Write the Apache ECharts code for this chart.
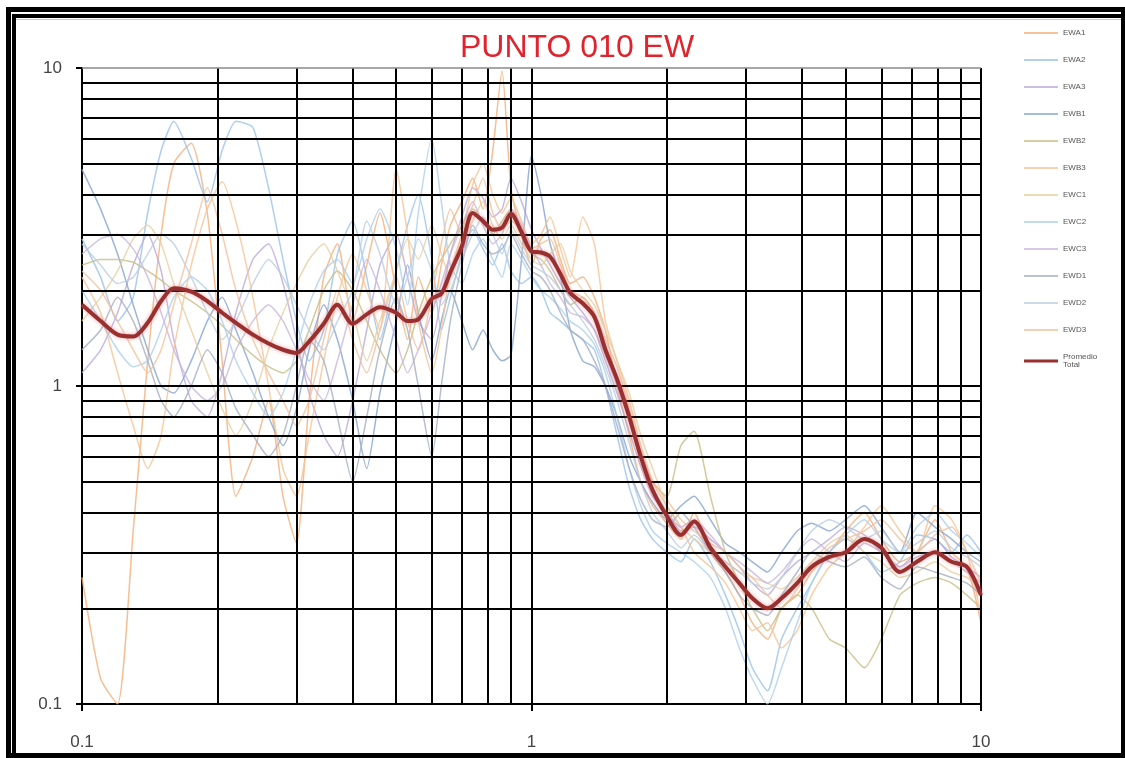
<!DOCTYPE html>
<html>
<head>
<meta charset="utf-8">
<script src="https://cdn.jsdelivr.net/npm/echarts@6/dist/echarts.min.js"></script>
<style>
  html, body { margin: 0; padding: 0; background: #ffffff; }
  #chart { width: 1125px; height: 758px; }
</style>
</head>
<body>
<div id="chart"></div>
<script>
// Frequencies (Hz) shared by every record
const freq = [0.10, 0.11, 0.12, 0.13, 0.14, 0.15, 0.16, 0.175, 0.19, 0.205, 0.22, 0.24, 0.26, 0.28, 0.30,
  0.32, 0.345, 0.37, 0.40, 0.43, 0.46, 0.50, 0.53, 0.56, 0.60, 0.63, 0.66, 0.70,
  0.74, 0.78, 0.82, 0.86, 0.90, 0.95, 1.00, 1.05, 1.10, 1.16, 1.22, 1.30, 1.38, 1.46,
  1.55, 1.65, 1.75, 1.86, 2.0, 2.15, 2.3, 2.5, 2.7, 2.9, 3.1, 3.35, 3.6, 3.9,
  4.2, 4.6, 5.0, 5.5, 6.0, 6.6, 7.2, 7.9, 8.6, 9.3, 10.0];

// H/V spectral ratios, one array per record
const EWA1 = [0.25, 0.12, 0.10, 0.35, 1.2, 3.0, 5.0, 5.8, 3.5, 1.2, 0.45, 0.6, 0.9, 0.45, 0.32,
  0.9, 2.2, 2.8, 1.6, 2.4, 3.5, 2.0, 1.4, 2.2, 1.7, 2.4, 3.2, 3.8,
  4.5, 3.6, 5.5, 9.8, 4.2, 3.0, 2.4, 2.9, 3.1, 2.5, 2.1, 2.2, 1.9, 1.5,
  1.0, 0.7, 0.5, 0.42, 0.37, 0.33, 0.4, 0.3, 0.26, 0.22, 0.18, 0.16, 0.2, 0.22,
  0.26, 0.3, 0.35, 0.4, 0.33, 0.28, 0.3, 0.38, 0.3, 0.27, 0.18];
const EWA2 = [2.9, 2.2, 1.6, 1.9, 3.5, 5.5, 6.8, 5.2, 3.8, 5.5, 6.8, 6.5, 4.2, 2.5, 1.6,
  1.2, 1.5, 2.6, 3.3, 2.2, 1.4, 2.3, 3.2, 4.0, 2.5, 1.5, 1.9, 2.6,
  3.1, 2.7, 2.4, 2.8, 2.3, 2.1, 2.2, 2.0, 1.7, 1.6, 1.5, 1.4, 1.3, 1.0,
  0.7, 0.48, 0.38, 0.33, 0.3, 0.28, 0.33, 0.28, 0.22, 0.17, 0.13, 0.11, 0.16, 0.2,
  0.24, 0.3, 0.33, 0.3, 0.26, 0.28, 0.34, 0.33, 0.3, 0.34, 0.3];
const EWA3 = [1.1, 1.3, 1.7, 2.4, 3.0, 2.3, 1.4, 0.9, 0.8, 1.1, 1.7, 2.5, 2.8, 2.1, 1.4,
  0.95, 0.7, 0.6, 0.9, 1.5, 2.4, 3.0, 2.2, 1.6, 1.4, 1.9, 2.6, 3.4,
  4.2, 3.9, 3.4, 3.6, 4.5, 3.8, 3.1, 2.7, 2.4, 2.1, 1.9, 1.7, 1.5, 1.2,
  0.95, 0.72, 0.56, 0.45, 0.4, 0.35, 0.36, 0.33, 0.3, 0.27, 0.24, 0.22, 0.25, 0.28,
  0.3, 0.33, 0.36, 0.34, 0.3, 0.27, 0.3, 0.33, 0.29, 0.27, 0.25];
const EWB1 = [4.8, 3.6, 2.6, 1.8, 1.3, 1.0, 0.95, 1.2, 1.6, 1.9, 1.5, 1.1, 0.8, 0.65, 0.85,
  1.3, 1.8, 1.4, 0.9, 0.55, 0.95, 1.6, 2.4, 1.7, 1.2, 1.6, 2.0, 1.6,
  1.3, 1.5, 1.3, 1.2, 1.25, 2.5, 5.3, 4.0, 2.8, 2.2, 1.5, 1.2, 1.15, 1.0,
  0.8, 0.6, 0.5, 0.43, 0.38, 0.42, 0.45, 0.38, 0.32, 0.3, 0.28, 0.26, 0.3, 0.35,
  0.37, 0.35, 0.38, 0.42, 0.36, 0.3, 0.4, 0.36, 0.33, 0.3, 0.28];
const EWB2 = [2.4, 2.5, 2.5, 2.45, 2.3, 2.15, 2.0, 1.85, 1.7, 1.55, 1.4, 1.25, 1.15, 1.1, 1.2,
  1.5, 2.0, 2.3, 2.0, 1.6, 1.3, 1.1, 1.3, 1.7, 2.2, 2.5, 2.8, 3.2,
  3.6, 3.3, 3.0, 3.3, 3.6, 3.0, 2.6, 2.5, 2.3, 2.0, 1.8, 1.9, 1.7, 1.35,
  1.05, 0.8, 0.62, 0.5, 0.45, 0.65, 0.72, 0.45, 0.3, 0.24, 0.2, 0.17, 0.2, 0.22,
  0.2, 0.16, 0.15, 0.13, 0.16, 0.22, 0.24, 0.25, 0.24, 0.22, 0.2];
const EWB3 = [2.2, 1.7, 1.1, 0.75, 0.55, 0.7, 1.3, 2.4, 3.6, 4.4, 3.3, 1.9, 1.0, 0.55, 0.45,
  0.7, 1.2, 1.9, 2.6, 2.0, 1.5, 4.8, 3.0, 1.6, 1.1, 1.5, 2.3, 3.0,
  4.3, 5.0, 4.0, 3.5, 3.9, 3.3, 2.8, 3.0, 3.4, 2.7, 2.2, 3.4, 2.8, 1.6,
  1.2, 0.9, 0.65, 0.5, 0.42, 0.36, 0.3, 0.27, 0.24, 0.2, 0.17, 0.18, 0.15, 0.17,
  0.22, 0.27, 0.3, 0.36, 0.42, 0.35, 0.3, 0.42, 0.38, 0.3, 0.19];
const EWC1 = [1.6, 1.9, 2.3, 2.9, 3.2, 2.8, 2.1, 1.5, 1.1, 0.85, 0.7, 0.9, 1.3, 1.7, 2.1,
  2.5, 2.8, 2.3, 1.7, 1.2, 1.6, 2.3, 2.9, 2.5, 3.2, 2.6, 2.2, 2.8,
  3.3, 3.8, 3.2, 2.9, 3.2, 2.8, 2.5, 2.4, 2.6, 2.8, 2.3, 2.0, 1.8, 1.5,
  1.2, 0.95, 0.7, 0.55, 0.42, 0.36, 0.33, 0.3, 0.28, 0.26, 0.25, 0.24, 0.23, 0.25,
  0.28, 0.32, 0.34, 0.3, 0.28, 0.25, 0.26, 0.28, 0.26, 0.25, 0.23];
const EWC2 = [2.0, 1.6, 1.3, 1.15, 1.2, 1.5, 1.9, 2.2, 2.0, 1.6, 1.2, 0.95, 0.8, 0.95, 1.3,
  1.8, 2.3, 2.5, 2.1, 2.9, 3.6, 2.7, 1.8, 3.5, 6.0, 3.8, 2.4, 2.1,
  2.6, 2.9, 2.5, 2.2, 2.8, 2.5, 2.2, 2.0, 1.9, 1.75, 1.6, 1.5, 1.35, 1.1,
  0.8, 0.55, 0.42, 0.35, 0.32, 0.3, 0.28, 0.25, 0.2, 0.15, 0.12, 0.10, 0.13, 0.18,
  0.24, 0.3, 0.34, 0.38, 0.33, 0.3, 0.36, 0.4, 0.35, 0.32, 0.29];
const EWC3 = [2.6, 2.9, 3.0, 2.7, 2.2, 1.7, 1.3, 1.0, 0.9, 1.0, 1.3, 1.6, 1.8, 1.6, 1.3,
  1.05, 0.9, 1.2, 1.8, 2.5, 2.0, 1.4, 1.1, 1.3, 1.7, 2.1, 2.6, 3.2,
  3.8, 3.2, 2.8, 3.0, 3.6, 3.2, 2.7, 2.4, 2.1, 1.9, 1.7, 1.65, 1.5, 1.25,
  1.0, 0.78, 0.6, 0.48, 0.4, 0.36, 0.38, 0.34, 0.3, 0.28, 0.26, 0.24, 0.26, 0.3,
  0.33, 0.3, 0.28, 0.32, 0.3, 0.27, 0.29, 0.3, 0.28, 0.26, 0.24];
const EWD1 = [1.3, 1.5, 1.9, 1.6, 1.2, 0.9, 0.8, 1.0, 1.3, 1.1, 0.85, 0.7, 0.6, 0.7, 1.0,
  1.4, 1.2, 0.8, 0.5, 0.8, 1.3, 1.9, 1.5, 1.0, 0.6, 1.0, 1.6, 2.4,
  3.2, 2.8, 2.6, 2.7, 3.0, 2.6, 2.3, 2.2, 2.0, 1.7, 1.5, 1.4, 1.2, 1.0,
  0.75, 0.55, 0.44, 0.38, 0.36, 0.4, 0.36, 0.3, 0.26, 0.22, 0.2, 0.19, 0.22, 0.26,
  0.3, 0.28, 0.27, 0.29, 0.25, 0.23, 0.27, 0.26, 0.25, 0.24, 0.22];
const EWD2 = [2.8, 2.4, 2.1, 2.2, 2.6, 3.0, 2.8, 2.2, 1.7, 1.4, 1.6, 2.1, 2.5, 2.2, 1.8,
  1.5, 1.3, 1.6, 2.0, 3.3, 2.6, 1.8, 2.2, 2.9, 2.3, 1.8, 2.0, 2.5,
  3.0, 3.4, 3.0, 2.6, 3.1, 2.7, 2.4, 2.3, 2.2, 2.0, 1.8, 1.6, 1.4, 1.15,
  0.9, 0.66, 0.5, 0.4, 0.35, 0.31, 0.34, 0.3, 0.28, 0.26, 0.24, 0.23, 0.25, 0.3,
  0.35, 0.38, 0.36, 0.33, 0.35, 0.3, 0.32, 0.35, 0.31, 0.29, 0.27];
const EWD3 = [2.3, 2.0, 1.6, 1.3, 1.1, 1.3, 1.8, 2.8, 4.2, 3.0, 2.0, 1.4, 1.1, 0.9, 0.75,
  0.9, 1.4, 2.0, 1.4, 1.1, 1.5, 2.2, 1.6, 1.3, 1.9, 2.8, 3.6, 3.0,
  3.7, 4.5, 3.5, 3.1, 3.3, 3.1, 2.7, 2.8, 2.9, 2.4, 2.0, 1.9, 1.7, 1.4,
  1.15, 0.85, 0.62, 0.5, 0.44, 0.38, 0.35, 0.32, 0.3, 0.27, 0.25, 0.22, 0.2, 0.23,
  0.27, 0.31, 0.33, 0.35, 0.38, 0.33, 0.3, 0.34, 0.36, 0.3, 0.24];

// Mean of all records
const promedio = [1.80, 1.60, 1.45, 1.43, 1.58, 1.85, 2.03, 1.98, 1.85, 1.70, 1.58, 1.45, 1.36, 1.30, 1.27,
  1.38, 1.57, 1.80, 1.57, 1.68, 1.77, 1.70, 1.60, 1.62, 1.88, 1.95, 2.28, 2.75,
  3.50, 3.30, 3.10, 3.15, 3.48, 3.05, 2.65, 2.63, 2.55, 2.25, 1.96, 1.82, 1.65, 1.30,
  1.05, 0.80, 0.60, 0.47, 0.39, 0.34, 0.375, 0.31, 0.27, 0.24, 0.215, 0.20, 0.215, 0.24,
  0.27, 0.29, 0.30, 0.33, 0.31, 0.26, 0.28, 0.30, 0.28, 0.27, 0.22];

const recordNames = ['EWA1', 'EWA2', 'EWA3', 'EWB1', 'EWB2', 'EWB3', 'EWC1', 'EWC2', 'EWC3', 'EWD1', 'EWD2', 'EWD3'];
const recordValues = [EWA1, EWA2, EWA3, EWB1, EWB2, EWB3, EWC1, EWC2, EWC3, EWD1, EWD2, EWD3];
const recordColors = ['#f2ae78', '#98c2e8', '#bba9d8', '#86a4d0', '#c6be86', '#f5c393',
  '#e6cfa2', '#acd0ec', '#c8b6dc', '#a5afc2', '#bccde0', '#f1c09e'];
const meanName = 'Promedio Total';

// Log-grid lines inside each decade
const xGridLines = [0.2, 0.3, 0.4, 0.5, 0.6, 0.7, 0.8, 0.9, 1, 2, 3, 4, 5, 6, 7, 8, 9, 10];
const yGridLines = [0.2, 0.3, 0.4, 0.5, 0.6, 0.7, 0.8, 0.9, 1, 2, 3, 4, 5, 6, 7, 8, 9];
const yTopLine = 10;
const tickLabels = { 0.1: '0.1', 1: '1', 10: '10' };

const chart = echarts.init(document.getElementById('chart'));
const FONT = '"Liberation Sans", Arial, sans-serif';

const pairs = (vals) => freq.map((f, k) => [f, vals[k]]);

const gridMarks = {
  silent: true,
  symbol: ['none', 'none'],
  label: { show: false },
  animation: false,
  lineStyle: { color: '#000000', width: 2, type: 'solid' },
  data: xGridLines.map(v => ({ xAxis: v }))
    .concat(yGridLines.map(v => ({ yAxis: v })))
    .concat([{ yAxis: yTopLine, lineStyle: { color: '#8a8a8a', width: 1.5 } }])
};

const series = [{
  name: '__grid',
  type: 'line',
  data: [[1, 1]],
  symbol: 'none',
  lineStyle: { opacity: 0 },
  z: 1,
  markLine: gridMarks,
  legendHoverLink: false
}];

recordNames.forEach((n, i) => {
  series.push({
    name: n,
    type: 'line',
    data: pairs(recordValues[i]),
    symbol: 'none',
    smooth: 0.2,
    z: 2,
    color: recordColors[i],
    lineStyle: { width: 1.5, opacity: 0.8 }
  });
});

series.push({
  name: meanName,
  type: 'line',
  data: pairs(promedio),
  symbol: 'none',
  smooth: 0.3,
  z: 5,
  color: '#9a2f2f',
  lineStyle: {
    width: 4,
    shadowColor: 'rgba(225,130,130,0.7)',
    shadowBlur: 4
  }
});

const legendItems = recordNames.map(n => ({ name: n, icon: 'path://M0,0H34V1.5H0Z' }))
  .concat([{ name: meanName, icon: 'path://M0,0H34V3H0Z' }]);

chart.setOption({
  animation: false,
  backgroundColor: '#ffffff',
  title: {
    text: 'PUNTO 010 EW',
    left: 455,
    top: 27,
    textStyle: { color: '#e0232d', fontSize: 32, fontWeight: 'normal', fontFamily: FONT }
  },
  legend: {
    data: legendItems,
    orient: 'vertical',
    left: 1019,
    top: 24,
    itemWidth: 34,
    itemHeight: 3,
    itemGap: 19,
    textStyle: { fontSize: 8, color: '#555555', fontFamily: FONT },
    formatter: (name) => name.replace(' ', '\n')
  },
  grid: { left: 82, top: 68, width: 899, height: 636, containLabel: false },
  xAxis: {
    type: 'log',
    logBase: 10,
    min: 0.1,
    max: 10,
    axisLine: { show: true, lineStyle: { color: '#000000', width: 2 } },
    axisTick: { show: true, length: 7, lineStyle: { color: '#000000', width: 2 } },
    splitLine: { show: false },
    axisLabel: {
      margin: 30,
      fontSize: 17,
      color: '#444444',
      fontFamily: FONT,
      formatter: (v) => tickLabels[v] || ''
    }
  },
  yAxis: {
    type: 'log',
    logBase: 10,
    min: 0.1,
    max: 10,
    axisLine: { show: true, lineStyle: { color: '#000000', width: 2 } },
    axisTick: { show: true, length: 6, lineStyle: { color: '#000000', width: 2 } },
    splitLine: { show: false },
    axisLabel: {
      margin: 20,
      fontSize: 17,
      color: '#444444',
      fontFamily: FONT,
      formatter: (v) => tickLabels[v] || ''
    }
  },
  series: series,
  graphic: [
    // double frame round the chart
    { type: 'rect', shape: { x: 6, y: 7, width: 1119, height: 5 }, style: { fill: '#000' }, silent: true },
    { type: 'rect', shape: { x: 6, y: 7, width: 5, height: 751 }, style: { fill: '#000' }, silent: true },
    { type: 'rect', shape: { x: 12, y: 14, width: 1109, height: 4 }, style: { fill: '#000' }, silent: true },
    { type: 'rect', shape: { x: 12, y: 14, width: 4, height: 744 }, style: { fill: '#000' }, silent: true },
    { type: 'rect', shape: { x: 1121, y: 7, width: 4, height: 751 }, style: { fill: '#000' }, silent: true },
    { type: 'rect', shape: { x: 6, y: 753, width: 1119, height: 5 }, style: { fill: '#000' }, silent: true },
    { type: 'rect', shape: { x: 16, y: 19, width: 1105, height: 1 }, style: { fill: '#c8c8c8' }, silent: true }
  ]
});
</script>
</body>
</html>
